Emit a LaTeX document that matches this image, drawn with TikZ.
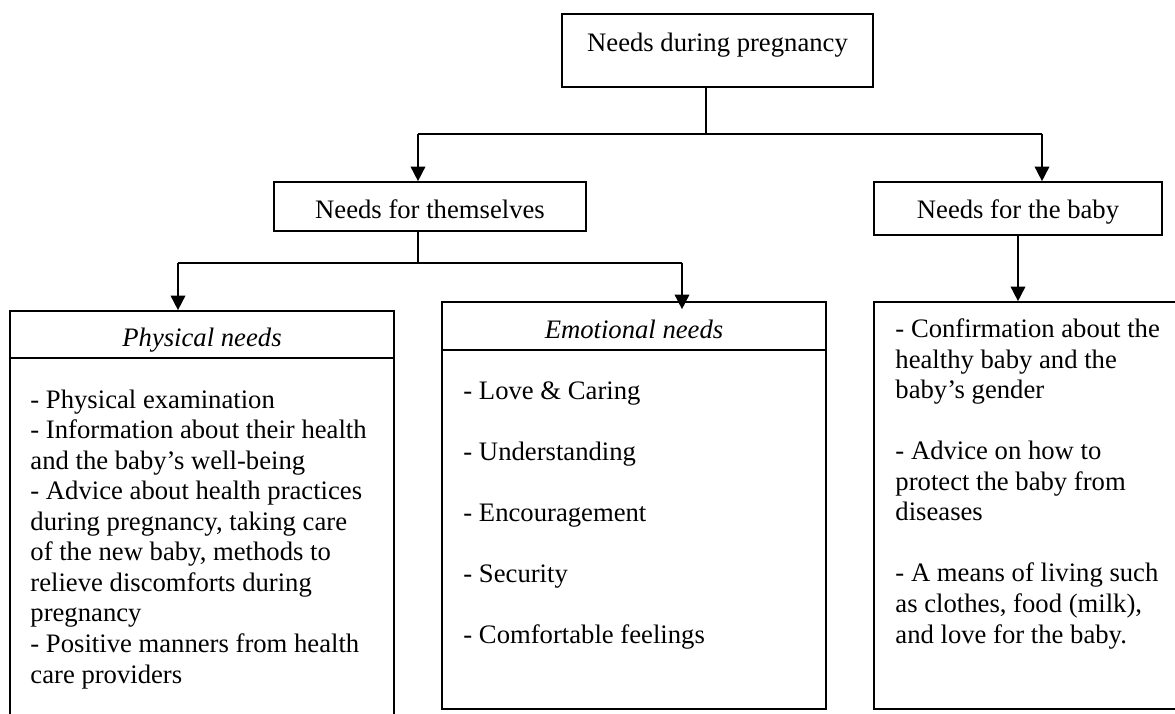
\documentclass[tikz,border=0pt]{standalone}
\usepackage{fontspec}
\setmainfont{Liberation Serif}
\usetikzlibrary{arrows.meta}
\begin{document}
\begin{tikzpicture}[x=0.45pt,y=-0.45pt,
  box/.style={draw, line width=0.75pt, inner sep=0pt},
  conn/.style={line width=0.75pt},
  arr/.style={conn, -{Triangle[length=6.6pt,width=6.6pt]}},
  txt/.style={font=\fontsize{12}{13.75}\selectfont, inner sep=0pt},
  hdr/.style={txt, anchor=base},
  list/.style={txt, anchor=base west, align=left}]
\useasboundingbox (0,0) rectangle (1175,713);
\clip (0,0) rectangle (1175,713);

% boxes (centres and sizes in px)
\node[box, minimum width=311*0.45pt, minimum height=73*0.45pt] (top) at (717.5,50.5) {};
\node[box, minimum width=312*0.45pt, minimum height=49*0.45pt] (them) at (430,206.5) {};
\node[box, minimum width=288*0.45pt, minimum height=53*0.45pt] (baby) at (1018,208.5) {};

\node[box, minimum width=384*0.45pt, minimum height=47*0.45pt] (physhead) at (202,334.5) {};
\node[box, minimum width=384*0.45pt, minimum height=382*0.45pt] (physbody) at (202,549) {};
\node[box, minimum width=384*0.45pt, minimum height=48*0.45pt] (emohead) at (634,326) {};
\node[box, minimum width=384*0.45pt, minimum height=359*0.45pt] (emobody) at (634,529.5) {};
\node[box, minimum width=316*0.45pt, minimum height=407*0.45pt] (babylist) at (1032,505.5) {};

% box titles
\node[hdr] (ttop) at (717.5,51) {Needs during pregnancy};
\node[hdr] (tthem) at (430,218) {Needs for themselves};
\node[hdr] (tbaby) at (1018,218) {Needs for the baby};
\node[hdr] (tphys) at (202,346) {\itshape Physical needs};
\node[hdr] (temo) at (634,338) {\itshape Emotional needs};

% lists (anchored at the baseline of their last line)
\node[list] (lphys) at (30,683) {- Physical examination\\
- Information about their health\\
and the baby’s well-being\\
- Advice about health practices\\
during pregnancy, taking care\\
of the  new baby, methods to\\
relieve discomforts during\\
pregnancy\\
- Positive manners from health\\
care providers};
\node[list] (lemo) at (463,643.5) {- Love \& Caring\\[13.75pt]
- Understanding\\[13.75pt]
- Encouragement\\[13.75pt]
- Security\\[13.75pt]
- Comfortable feelings};
\node[list] (lbaby) at (895,643) {- Confirmation about the\\
healthy baby and the\\
baby’s gender\\[13.75pt]
- Advice on how to\\
protect the baby from\\
diseases\\[13.75pt]
- A means of living such\\
as clothes, food (milk),\\
and love for the baby.};

% junctions of the connectors
\coordinate (j1) at (706,134);
\coordinate (j1l) at (418,134);
\coordinate (j1r) at (1042,134);
\coordinate (j2) at (418,263);
\coordinate (j2l) at (178,263);
\coordinate (j2r) at (682,263);

% connectors
\draw[conn] (top.south -| j1) -- (j1);
\draw[conn] (j1l) -- (j1r);
\draw[arr] (j1l) -- (them.north -| j1l);
\draw[arr] (j1r) -- (baby.north -| j1r);
\draw[conn] (them.south -| j2) -- (j2);
\draw[conn] (j2l) -- (j2r);
\draw[arr] (j2l) -- (physhead.north -| j2l);
\draw[arr, shorten >=-3.6pt] (j2r) -- (emohead.north -| j2r);
\draw[arr] (baby.south) -- (babylist.north -| baby.south);
\end{tikzpicture}
\end{document}
